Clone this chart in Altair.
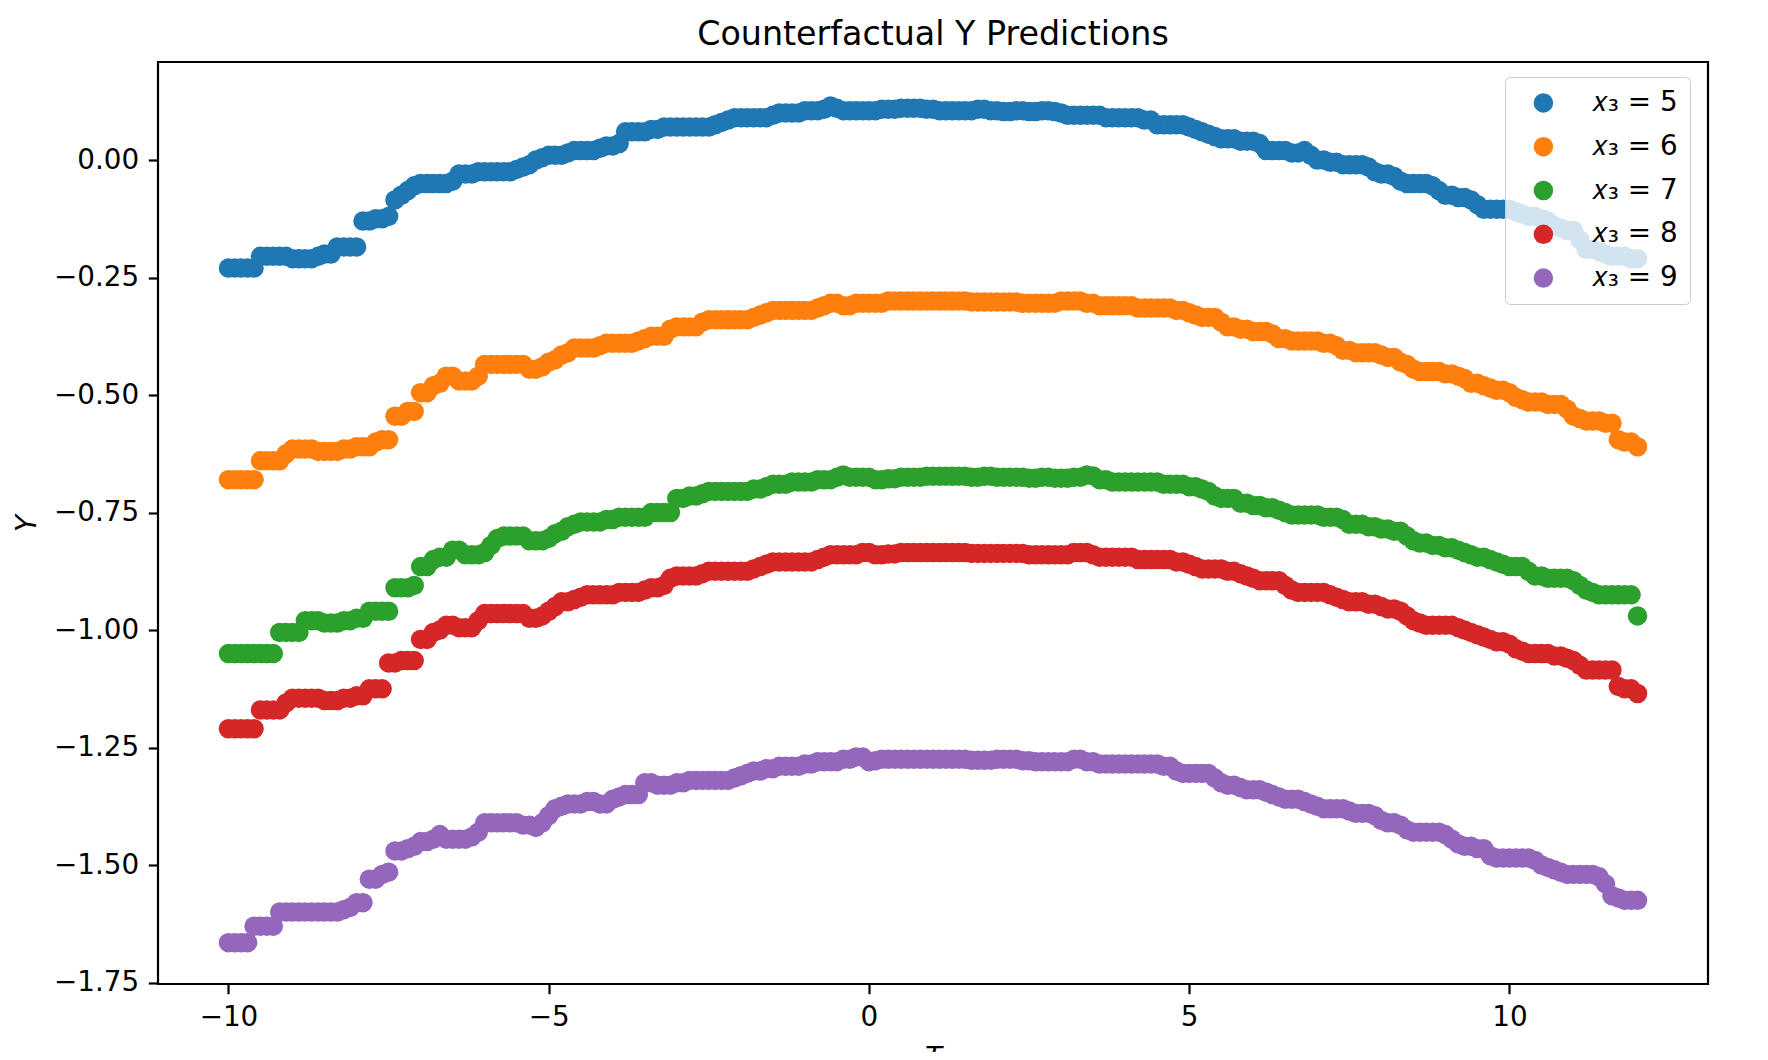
import altair as alt
import pandas as pd

T = [-10.0, -9.9, -9.8, -9.7, -9.6, -9.5, -9.4, -9.3, -9.2, -9.1,
     -9.0, -8.9, -8.8, -8.7, -8.6, -8.5, -8.4, -8.3, -8.2, -8.1,
     -8.0, -7.9, -7.8, -7.7, -7.6, -7.5, -7.4, -7.3, -7.2, -7.1,
     -7.0, -6.9, -6.8, -6.7, -6.6, -6.5, -6.4, -6.3, -6.2, -6.1,
     -6.0, -5.9, -5.8, -5.7, -5.6, -5.5, -5.4, -5.3, -5.2, -5.1,
     -5.0, -4.9, -4.8, -4.7, -4.6, -4.5, -4.4, -4.3, -4.2, -4.1,
     -4.0, -3.9, -3.8, -3.7, -3.6, -3.5, -3.4, -3.3, -3.2, -3.1,
     -3.0, -2.9, -2.8, -2.7, -2.6, -2.5, -2.4, -2.3, -2.2, -2.1,
     -2.0, -1.9, -1.8, -1.7, -1.6, -1.5, -1.4, -1.3, -1.2, -1.1,
     -1.0, -0.9, -0.8, -0.7, -0.6, -0.5, -0.4, -0.3, -0.2, -0.1,
     0.0, 0.1, 0.2, 0.3, 0.4, 0.5, 0.6, 0.7, 0.8, 0.9,
     1.0, 1.1, 1.2, 1.3, 1.4, 1.5, 1.6, 1.7, 1.8, 1.9,
     2.0, 2.1, 2.2, 2.3, 2.4, 2.5, 2.6, 2.7, 2.8, 2.9,
     3.0, 3.1, 3.2, 3.3, 3.4, 3.5, 3.6, 3.7, 3.8, 3.9,
     4.0, 4.1, 4.2, 4.3, 4.4, 4.5, 4.6, 4.7, 4.8, 4.9,
     5.0, 5.1, 5.2, 5.3, 5.4, 5.5, 5.6, 5.7, 5.8, 5.9,
     6.0, 6.1, 6.2, 6.3, 6.4, 6.5, 6.6, 6.7, 6.8, 6.9,
     7.0, 7.1, 7.2, 7.3, 7.4, 7.5, 7.6, 7.7, 7.8, 7.9,
     8.0, 8.1, 8.2, 8.3, 8.4, 8.5, 8.6, 8.7, 8.8, 8.9,
     9.0, 9.1, 9.2, 9.3, 9.4, 9.5, 9.6, 9.7, 9.8, 9.9,
     10.0, 10.1, 10.2, 10.3, 10.4, 10.5, 10.6, 10.7, 10.8, 10.9,
     11.0, 11.1, 11.2, 11.3, 11.4, 11.5, 11.6, 11.7, 11.8, 11.9,
     12.0]

y_x3_5 = [-0.23, -0.23, -0.23, -0.23, -0.23, -0.205, -0.205, -0.205, -0.205, -0.205,
          -0.21, -0.21, -0.21, -0.21, -0.205, -0.20, -0.20, -0.185, -0.185, -0.185,
          -0.185, -0.13, -0.13, -0.125, -0.125, -0.12, -0.085, -0.075, -0.065, -0.055,
          -0.05, -0.05, -0.05, -0.05, -0.05, -0.045, -0.03, -0.03, -0.03, -0.025,
          -0.025, -0.025, -0.025, -0.025, -0.025, -0.02, -0.015, -0.01, 0.0, 0.005,
          0.01, 0.01, 0.01, 0.015, 0.02, 0.02, 0.02, 0.02, 0.025, 0.03,
          0.03, 0.035, 0.06, 0.06, 0.06, 0.06, 0.065, 0.065, 0.07, 0.07,
          0.07, 0.07, 0.07, 0.07, 0.07, 0.07, 0.075, 0.08, 0.085, 0.09,
          0.09, 0.09, 0.09, 0.09, 0.09, 0.095, 0.10, 0.10, 0.10, 0.10,
          0.105, 0.105, 0.105, 0.108, 0.115, 0.11, 0.105, 0.105, 0.105, 0.105,
          0.105, 0.105, 0.108, 0.108, 0.108, 0.11, 0.11, 0.11, 0.11, 0.108,
          0.108, 0.105, 0.105, 0.105, 0.105, 0.105, 0.105, 0.108, 0.108, 0.105,
          0.105, 0.103, 0.103, 0.105, 0.105, 0.103, 0.103, 0.105, 0.105, 0.103,
          0.10, 0.095, 0.095, 0.095, 0.095, 0.095, 0.095, 0.09, 0.09, 0.09,
          0.09, 0.09, 0.09, 0.085, 0.085, 0.075, 0.075, 0.075, 0.075, 0.075,
          0.07, 0.065, 0.06, 0.055, 0.05, 0.045, 0.045, 0.045, 0.04, 0.04,
          0.04, 0.035, 0.02, 0.02, 0.02, 0.02, 0.015, 0.015, 0.02, 0.01,
          0.0, 0.0, -0.005, -0.005, -0.01, -0.01, -0.01, -0.01, -0.015, -0.025,
          -0.03, -0.03, -0.035, -0.045, -0.05, -0.05, -0.05, -0.05, -0.055, -0.065,
          -0.075, -0.075, -0.08, -0.08, -0.085, -0.095, -0.105, -0.105, -0.105, -0.105,
          -0.105, -0.11, -0.115, -0.12, -0.12, -0.125, -0.13, -0.14, -0.145, -0.15,
          -0.15, -0.17, -0.19, -0.19, -0.195, -0.20, -0.205, -0.205, -0.205, -0.21,
          -0.21]

y_x3_6 = [-0.68, -0.68, -0.68, -0.68, -0.68, -0.64, -0.64, -0.64, -0.64, -0.625,
          -0.615, -0.615, -0.615, -0.615, -0.62, -0.62, -0.62, -0.62, -0.615, -0.615,
          -0.61, -0.61, -0.61, -0.60, -0.595, -0.595, -0.545, -0.545, -0.535, -0.535,
          -0.495, -0.495, -0.48, -0.475, -0.46, -0.46, -0.47, -0.47, -0.47, -0.46,
          -0.435, -0.435, -0.435, -0.435, -0.435, -0.435, -0.435, -0.445, -0.445, -0.44,
          -0.43, -0.425, -0.415, -0.41, -0.40, -0.40, -0.40, -0.40, -0.395, -0.39,
          -0.39, -0.39, -0.39, -0.39, -0.385, -0.38, -0.375, -0.375, -0.375, -0.36,
          -0.355, -0.355, -0.355, -0.355, -0.345, -0.34, -0.34, -0.34, -0.34, -0.34,
          -0.34, -0.34, -0.335, -0.33, -0.325, -0.32, -0.32, -0.32, -0.32, -0.32,
          -0.32, -0.32, -0.315, -0.31, -0.305, -0.305, -0.31, -0.31, -0.305, -0.305,
          -0.305, -0.305, -0.305, -0.30, -0.30, -0.30, -0.30, -0.30, -0.30, -0.30,
          -0.30, -0.30, -0.30, -0.30, -0.30, -0.30, -0.302, -0.302, -0.302, -0.302,
          -0.302, -0.302, -0.302, -0.302, -0.305, -0.305, -0.305, -0.305, -0.305, -0.305,
          -0.30, -0.30, -0.30, -0.30, -0.305, -0.305, -0.31, -0.31, -0.31, -0.31,
          -0.31, -0.31, -0.315, -0.315, -0.315, -0.315, -0.315, -0.315, -0.32, -0.32,
          -0.325, -0.33, -0.335, -0.335, -0.335, -0.345, -0.355, -0.355, -0.36, -0.36,
          -0.365, -0.365, -0.365, -0.37, -0.38, -0.38, -0.385, -0.385, -0.385, -0.385,
          -0.385, -0.39, -0.39, -0.395, -0.405, -0.405, -0.41, -0.41, -0.41, -0.41,
          -0.415, -0.42, -0.42, -0.43, -0.435, -0.445, -0.45, -0.45, -0.45, -0.45,
          -0.455, -0.455, -0.46, -0.465, -0.475, -0.475, -0.48, -0.485, -0.49, -0.49,
          -0.495, -0.505, -0.51, -0.515, -0.515, -0.515, -0.52, -0.52, -0.52, -0.53,
          -0.545, -0.55, -0.555, -0.555, -0.555, -0.56, -0.56, -0.595, -0.60, -0.60,
          -0.61]

y_x3_7 = [-1.05, -1.05, -1.05, -1.05, -1.05, -1.05, -1.05, -1.05, -1.005, -1.005,
          -1.005, -1.005, -0.98, -0.98, -0.98, -0.985, -0.985, -0.985, -0.98, -0.98,
          -0.975, -0.975, -0.96, -0.96, -0.96, -0.96, -0.91, -0.91, -0.91, -0.905,
          -0.865, -0.865, -0.85, -0.845, -0.845, -0.83, -0.83, -0.84, -0.84, -0.84,
          -0.835, -0.82, -0.805, -0.80, -0.80, -0.80, -0.80, -0.81, -0.81, -0.81,
          -0.805, -0.795, -0.79, -0.78, -0.775, -0.77, -0.77, -0.77, -0.77, -0.765,
          -0.765, -0.76, -0.76, -0.76, -0.76, -0.76, -0.75, -0.75, -0.75, -0.75,
          -0.72, -0.72, -0.715, -0.715, -0.71, -0.705, -0.705, -0.705, -0.705, -0.705,
          -0.705, -0.705, -0.70, -0.70, -0.695, -0.69, -0.69, -0.69, -0.685, -0.685,
          -0.685, -0.685, -0.68, -0.68, -0.68, -0.675, -0.67, -0.675, -0.675, -0.675,
          -0.675, -0.68, -0.68, -0.678, -0.678, -0.675, -0.675, -0.675, -0.675, -0.673,
          -0.673, -0.673, -0.673, -0.673, -0.673, -0.673, -0.675, -0.675, -0.673, -0.673,
          -0.675, -0.675, -0.675, -0.675, -0.675, -0.677, -0.677, -0.675, -0.675, -0.677,
          -0.677, -0.677, -0.675, -0.675, -0.67, -0.672, -0.68, -0.68, -0.685, -0.685,
          -0.685, -0.685, -0.685, -0.685, -0.685, -0.685, -0.69, -0.69, -0.69, -0.69,
          -0.695, -0.695, -0.70, -0.705, -0.715, -0.72, -0.72, -0.72, -0.73, -0.73,
          -0.735, -0.735, -0.74, -0.74, -0.745, -0.75, -0.755, -0.755, -0.755, -0.755,
          -0.755, -0.76, -0.76, -0.76, -0.765, -0.775, -0.775, -0.775, -0.78, -0.78,
          -0.785, -0.785, -0.79, -0.79, -0.80, -0.81, -0.815, -0.815, -0.82, -0.82,
          -0.825, -0.825, -0.83, -0.835, -0.84, -0.845, -0.845, -0.85, -0.855, -0.86,
          -0.865, -0.865, -0.865, -0.875, -0.885, -0.885, -0.89, -0.89, -0.89, -0.89,
          -0.895, -0.905, -0.915, -0.92, -0.925, -0.925, -0.925, -0.925, -0.925, -0.925,
          -0.97]

y_x3_8 = [-1.21, -1.21, -1.21, -1.21, -1.21, -1.17, -1.17, -1.17, -1.17, -1.155,
          -1.145, -1.145, -1.145, -1.145, -1.145, -1.15, -1.15, -1.15, -1.145, -1.145,
          -1.14, -1.14, -1.125, -1.125, -1.125, -1.07, -1.07, -1.065, -1.065, -1.065,
          -1.02, -1.02, -1.005, -1.0, -0.99, -0.99, -0.995, -0.995, -0.995, -0.98,
          -0.965, -0.965, -0.965, -0.965, -0.965, -0.965, -0.965, -0.975, -0.975, -0.97,
          -0.96, -0.95, -0.94, -0.94, -0.935, -0.93, -0.925, -0.925, -0.925, -0.925,
          -0.925, -0.92, -0.92, -0.92, -0.92, -0.915, -0.91, -0.91, -0.905, -0.89,
          -0.885, -0.885, -0.885, -0.885, -0.88, -0.875, -0.875, -0.875, -0.875, -0.875,
          -0.875, -0.875, -0.87, -0.865, -0.86, -0.855, -0.855, -0.855, -0.855, -0.855,
          -0.855, -0.855, -0.85, -0.845, -0.84, -0.84, -0.84, -0.84, -0.84, -0.835,
          -0.835, -0.84, -0.84, -0.838, -0.838, -0.835, -0.835, -0.835, -0.835, -0.835,
          -0.835, -0.835, -0.835, -0.835, -0.835, -0.835, -0.837, -0.837, -0.837, -0.837,
          -0.837, -0.837, -0.837, -0.837, -0.837, -0.84, -0.84, -0.84, -0.84, -0.84,
          -0.84, -0.84, -0.835, -0.835, -0.835, -0.84, -0.845, -0.845, -0.845, -0.845,
          -0.845, -0.845, -0.85, -0.85, -0.85, -0.85, -0.85, -0.85, -0.855, -0.855,
          -0.86, -0.865, -0.87, -0.87, -0.87, -0.87, -0.875, -0.875, -0.88, -0.885,
          -0.89, -0.895, -0.895, -0.895, -0.895, -0.905, -0.915, -0.92, -0.92, -0.92,
          -0.92, -0.92, -0.925, -0.93, -0.935, -0.94, -0.94, -0.94, -0.945, -0.945,
          -0.95, -0.955, -0.955, -0.96, -0.97, -0.98, -0.985, -0.99, -0.99, -0.99,
          -0.99, -0.99, -0.995, -1.0, -1.005, -1.01, -1.015, -1.02, -1.025, -1.025,
          -1.03, -1.04, -1.045, -1.05, -1.05, -1.05, -1.05, -1.055, -1.055, -1.06,
          -1.065, -1.075, -1.085, -1.085, -1.085, -1.085, -1.085, -1.12, -1.125, -1.125,
          -1.135]

y_x3_9 = [-1.665, -1.665, -1.665, -1.665, -1.63, -1.63, -1.63, -1.63, -1.60, -1.60,
          -1.60, -1.60, -1.60, -1.60, -1.60, -1.60, -1.60, -1.60, -1.595, -1.59,
          -1.58, -1.58, -1.53, -1.53, -1.52, -1.515, -1.47, -1.47, -1.465, -1.46,
          -1.45, -1.45, -1.445, -1.435, -1.445, -1.445, -1.445, -1.445, -1.44, -1.43,
          -1.41, -1.41, -1.41, -1.41, -1.41, -1.41, -1.415, -1.415, -1.42, -1.41,
          -1.395, -1.38, -1.375, -1.37, -1.37, -1.37, -1.365, -1.365, -1.37, -1.37,
          -1.36, -1.355, -1.35, -1.35, -1.35, -1.325, -1.325, -1.33, -1.33, -1.33,
          -1.325, -1.325, -1.32, -1.32, -1.32, -1.32, -1.32, -1.32, -1.32, -1.315,
          -1.31, -1.305, -1.30, -1.30, -1.295, -1.295, -1.29, -1.29, -1.29, -1.29,
          -1.285, -1.285, -1.28, -1.28, -1.28, -1.28, -1.275, -1.275, -1.27, -1.27,
          -1.28, -1.278, -1.275, -1.275, -1.275, -1.275, -1.275, -1.275, -1.275, -1.275,
          -1.275, -1.275, -1.275, -1.275, -1.275, -1.275, -1.277, -1.277, -1.277, -1.277,
          -1.275, -1.275, -1.275, -1.275, -1.278, -1.278, -1.28, -1.28, -1.28, -1.28,
          -1.28, -1.28, -1.275, -1.275, -1.28, -1.28, -1.285, -1.285, -1.285, -1.285,
          -1.285, -1.285, -1.285, -1.285, -1.285, -1.285, -1.29, -1.29, -1.30, -1.305,
          -1.305, -1.305, -1.305, -1.305, -1.315, -1.325, -1.33, -1.33, -1.335, -1.34,
          -1.34, -1.34, -1.345, -1.35, -1.355, -1.36, -1.36, -1.36, -1.365, -1.37,
          -1.375, -1.38, -1.38, -1.38, -1.38, -1.385, -1.39, -1.39, -1.39, -1.395,
          -1.405, -1.41, -1.41, -1.415, -1.425, -1.43, -1.43, -1.43, -1.43, -1.43,
          -1.435, -1.445, -1.455, -1.46, -1.46, -1.465, -1.465, -1.48, -1.485, -1.485,
          -1.485, -1.485, -1.485, -1.485, -1.49, -1.50, -1.505, -1.51, -1.515, -1.52,
          -1.52, -1.52, -1.52, -1.52, -1.525, -1.54, -1.565, -1.57, -1.575, -1.575,
          -1.575]

labels = ["\U0001D465\u2083 = 5", "\U0001D465\u2083 = 6", "\U0001D465\u2083 = 7",
          "\U0001D465\u2083 = 8", "\U0001D465\u2083 = 9"]
series = [y_x3_5, y_x3_6, y_x3_7, y_x3_8, y_x3_9]
colors = ["#1f77b4", "#ff7f0e", "#2ca02c", "#d62728", "#9467bd"]

rows = []
for i, (lab, ys) in enumerate(zip(labels, series)):
    for t, y in zip(T, ys):
        rows.append({"T": t, "Y": y, "series": lab, "order": i})
df = pd.DataFrame(rows)

FONT = "DejaVu Sans"

chart = alt.Chart(df).mark_circle(size=380, opacity=1).encode(
    x=alt.X("T:Q", scale=alt.Scale(domain=[-11.1, 13.1], nice=False, zero=False),
            axis=alt.Axis(title="T", values=[-10, -5, 0, 5, 10], format="d",
                          titlePadding=13)),
    y=alt.Y("Y:Q", scale=alt.Scale(domain=[-1.753, 0.2085], nice=False, zero=False),
            axis=alt.Axis(title="Y", values=[0, -0.25, -0.5, -0.75, -1.0, -1.25, -1.5, -1.75],
                          format=".2f", titlePadding=12)),
    color=alt.Color("series:N", scale=alt.Scale(domain=labels, range=colors),
                    title=None,
                    legend=alt.Legend(orient="none", legendX=1347, legendY=15,
                                      fillColor="rgba(255,255,255,0.8)",
                                      strokeColor="#cccccc", cornerRadius=5,
                                      padding=12, rowPadding=14.8,
                                      symbolType="circle", symbolSize=380,
                                      symbolStrokeWidth=0, symbolOpacity=1,
                                      symbolOffset=12.5, labelOffset=34.5,
                                      labelFont=FONT, labelFontSize=27.8,
                                      labelColor="#000000", labelLimit=400)),
    order=alt.Order("order:Q"),
).properties(
    width=1550,
    height=922,
    background="white",
    autosize=alt.AutoSizeParams(type="none"),
    padding={"left": 150, "top": 54, "right": 40, "bottom": 68},
    title=alt.TitleParams("Counterfactual Y Predictions", font=FONT, fontSize=33.3,
                          fontWeight="normal", color="#000000", anchor="middle",
                          frame="group", offset=10),
).configure_view(
    stroke="#000000", strokeWidth=2.2
).configure_axis(
    grid=False, domain=False,
    ticks=True, tickSize=9.7, tickWidth=2.2, tickColor="#000000",
    labelFont=FONT, labelFontSize=27.8, labelColor="#000000", labelPadding=9.7,
    titleFont=FONT, titleFontSize=27.8, titleFontWeight="normal",
    titleFontStyle="italic", titleColor="#000000",
)

chart.save("out.html", embed_options={"renderer": "svg", "actions": False})
